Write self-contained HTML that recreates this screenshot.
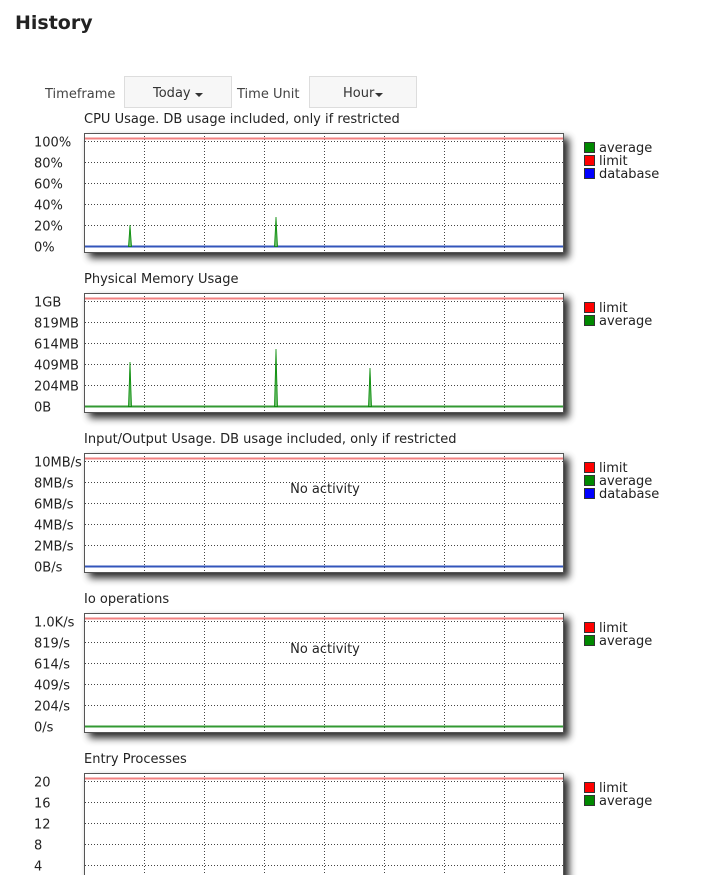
<!DOCTYPE html>
<html><head><meta charset="utf-8">
<style>
html,body{margin:0;padding:0;background:#fff;width:708px;height:875px;overflow:hidden}
svg{display:block;font-family:"DejaVu Sans","Liberation Sans",sans-serif}
</style></head><body>
<svg id="s" width="708" height="875" xmlns="http://www.w3.org/2000/svg">
<defs>
<filter id="sh" x="-5%" y="-10%" width="115%" height="130%">
<feGaussianBlur in="SourceAlpha" stdDeviation="4"/>
<feOffset dx="5" dy="5"/>
<feComponentTransfer><feFuncA type="linear" slope="0.85"/></feComponentTransfer>
<feMerge><feMergeNode/><feMergeNode in="SourceGraphic"/></feMerge>
</filter>
</defs>
<text x="15" y="29" font-size="19" font-weight="bold" fill="#222">History</text>
<text x="45" y="98" font-size="13" fill="#444">Timeframe</text>
<rect x="124.5" y="76.5" width="107" height="31" fill="#f7f7f7" stroke="#ddd"/>
<text x="153" y="97" font-size="13" fill="#333">Today</text>
<path d="M195 93h8l-4 4z" fill="#333"/>
<text x="237" y="98" font-size="13" fill="#444">Time Unit</text>
<rect x="309.5" y="76.5" width="107" height="31" fill="#f7f7f7" stroke="#ddd"/>
<text x="343" y="97" font-size="13" fill="#333">Hour</text>
<path d="M375 93h8l-4 4z" fill="#333"/>
</svg>
<script>
var s=document.getElementById('s'),h='';
var charts=[
{t:"CPU Usage. DB usage included, only if restricted",l:["100%","80%","60%","40%","20%","0%"],lg:[["#080","average"],["#f00","limit"],["#00f","database"]],db:1,sp:[[130,225],[276,217]]},
{t:"Physical Memory Usage",l:["1GB","819MB","614MB","409MB","204MB","0B"],lg:[["#f00","limit"],["#080","average"]],sp:[[130,362],[276,349],[370,368]]},
{t:"Input/Output Usage. DB usage included, only if restricted",l:["10MB/s","8MB/s","6MB/s","4MB/s","2MB/s","0B/s"],lg:[["#f00","limit"],["#080","average"],["#00f","database"]],db:1,na:1,sp:[]},
{t:"Io operations",l:["1.0K/s","819/s","614/s","409/s","204/s","0/s"],lg:[["#f00","limit"],["#080","average"]],na:1,sp:[]},
{t:"Entry Processes",l:["20","16","12","8","4","0"],lg:[["#f00","limit"],["#080","average"]],sp:[]}
];
charts.forEach(function(c,i){
 var T=133+160*i;
 h+='<text x="84" y="'+(T-10)+'" font-size="13" fill="#222">'+c.t+'</text>';
 h+='<rect x="84" y="'+T+'" width="480" height="120" fill="#fff" filter="url(#sh)"/>';
 h+='<rect x="84.5" y="'+(T+0.5)+'" width="479" height="119" fill="none" stroke="#555" stroke-width="1"/>';
 for(var k=1;k<8;k++){var x=84+60*k+0.5;h+='<line x1="'+x+'" y1="'+T+'" x2="'+x+'" y2="'+(T+120)+'" stroke="#444" stroke-dasharray="1,2"/>';}
 for(k=0;k<6;k++){var y=T+8+21*k+0.5;
  if(k<5)h+='<line x1="85" y1="'+y+'" x2="563" y2="'+y+'" stroke="#444" stroke-dasharray="1,2"/>';
  h+='<text x="34" y="'+(y+5)+'" font-size="13" fill="#222">'+c.l[k]+'</text>';}
 h+='<line x1="85" y1="'+(T+5.5)+'" x2="563" y2="'+(T+5.5)+'" stroke="#f08080" stroke-width="2"/>';
 var b=T+113.5;
 h+='<line x1="85" y1="'+b+'" x2="563" y2="'+b+'" stroke="'+(c.db?'#3355bb':'#339933')+'" stroke-width="2"/>';
 c.sp.forEach(function(p){h+='<polygon points="'+(p[0]-1.5)+','+b+' '+p[0]+','+p[1]+' '+(p[0]+1.5)+','+b+'" fill="#6b6" stroke="#080" stroke-width="0.8"/>';});
 if(c.na)h+='<text x="325" y="'+(T+60)+'" font-size="13" fill="#222" text-anchor="middle" dy="-20">No activity</text>';
 c.lg.forEach(function(g,j){var y=T+10+13*j;
  h+='<rect x="584.5" y="'+(y-0.5)+'" width="10" height="10" fill="'+g[0]+'" stroke="#333"/>';
  h+='<text x="599" y="'+(y+9)+'" font-size="13" fill="#222">'+g[1]+'</text>';});
});
s.insertAdjacentHTML('beforeend',h);
</script>
</body></html>
